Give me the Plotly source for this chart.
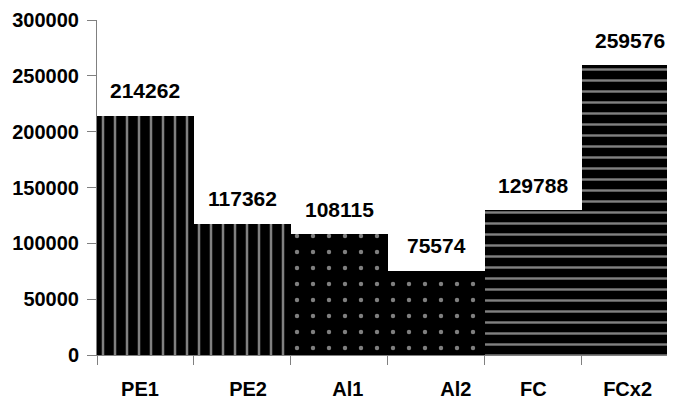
import plotly.graph_objects as go

categories = ["PE1", "PE2", "Al1", "Al2", "FC", "FCx2"]
values = [214262, 117362, 108115, 75574, 129788, 259576]
y_tick_values = [0, 50000, 100000, 150000, 200000, 250000, 300000]
y_tick_labels = ["0", "50000", "100000", "150000", "200000", "250000", "300000"]

# style: fill patterns and small label nudges (in non-breaking spaces)
pattern_shapes = ["|", "|", ".", ".", "-", "-"]
pattern_sizes = [12, 12, 16, 16, 11, 11]
pattern_solidity = [0.21, 0.21, 0.06, 0.06, 0.22, 0.22]
label_nudge = [-2, 2, 3, 7, 0, -1]

FONT = "Arial, Liberation Sans, sans-serif"
GREY = "#808080"
NBSP = "\u00a0"


def nudged(label, n):
    if n > 0:
        return NBSP * n + label
    if n < 0:
        return label + NBSP * (-n)
    return label


x_tick_text = [nudged(c, n) for c, n in zip(categories, label_nudge)]

fig = go.Figure()
fig.add_trace(go.Bar(
    x=categories,
    y=values,
    width=1.0,
    marker=dict(
        color="black",
        line=dict(width=0),
        pattern=dict(
            shape=pattern_shapes,
            size=pattern_sizes,
            solidity=pattern_solidity,
            bgcolor="black",
            fgcolor="white",
            fillmode="overlay",
        ),
    ),
    hoverinfo="x+y",
))

for c, v in zip(categories, values):
    fig.add_annotation(
        x=c, y=v, text=str(v), showarrow=False,
        yanchor="middle", yshift=25,
        font=dict(family=FONT, size=21, color="black", weight="bold"),
    )

# page body has an 8px margin: figure is sized/offset to compensate
fig.update_layout(
    width=667, height=390,
    margin=dict(l=89, r=0, t=12, b=43),
    paper_bgcolor="white", plot_bgcolor="white",
    showlegend=False,
    bargap=0,
)
fig.update_xaxes(
    range=[-0.5, 5.46],
    automargin=False,
    tickvals=categories, ticktext=x_tick_text,
    showline=True, linecolor=GREY, linewidth=1,
    ticks="outside", tickson="boundaries", ticklen=9, tickcolor=GREY,
    tickfont=dict(family=FONT, size=20, color="black", weight="bold"),
    ticklabelstandoff=16,
    showgrid=False,
)
fig.update_yaxes(
    range=[0, 300000],
    automargin=False,
    tickvals=y_tick_values, ticktext=y_tick_labels,
    showline=True, linecolor=GREY, linewidth=1,
    ticks="outside", ticklen=9, tickcolor=GREY,
    tickfont=dict(family=FONT, size=20, color="black", weight="bold"),
    ticklabelstandoff=4,
    showgrid=False, zeroline=False,
)

fig.write_html("out.html")
